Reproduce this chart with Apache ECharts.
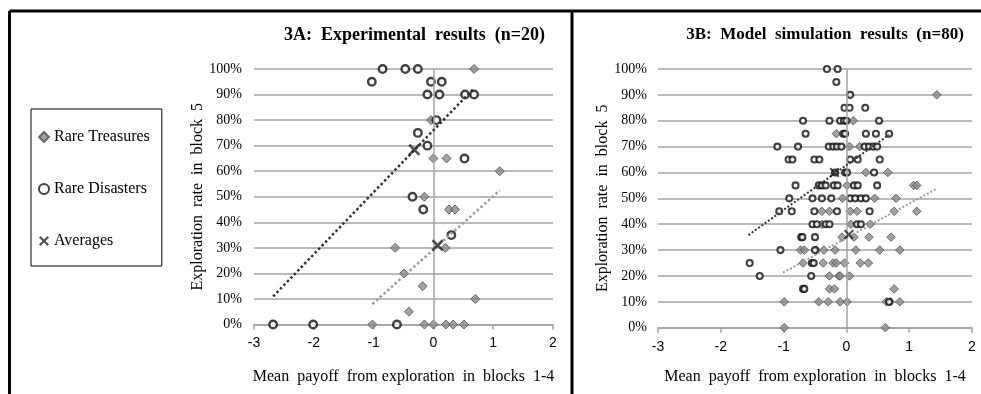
<!DOCTYPE html>
<html><head><meta charset="utf-8">
<script src="https://cdn.jsdelivr.net/npm/echarts/dist/echarts.min.js"></script>
<style>html,body{margin:0;padding:0;background:#fff}#c{width:981px;height:394px}</style>
</head><body><div id="c"></div>
<script>
// ---- data (x = mean payoff, y = exploration rate %) ----
const treasuresA = [[0.68,100],[-0.04,80],[0.0,65],[0.22,65],[1.11,60],[-0.15,50],[0.26,45],[0.36,45],[-0.64,30],[0.2,30],[-0.49,20],[-0.18,15],[0.7,10],[-0.41,5],[-1.02,0],[-0.15,0],[0.0,0],[0.21,0],[0.33,0],[0.51,0]];
const disastersA = [[-0.85,100],[-0.47,100],[-0.26,100],[-1.03,95],[-0.04,95],[0.14,95],[-0.1,90],[0.1,90],[0.53,90],[0.68,90],[0.05,80],[-0.26,75],[-0.1,70],[0.52,65],[-0.35,50],[-0.17,45],[0.3,35],[-2.68,0],[-2.01,0],[-0.61,0]];
const averagesA = [[-0.32,68.4],[0.07,31]];
const trendDisastersA = [[-2.68,11],[0.68,92.5]];
const trendTreasuresA = [[-1.02,8],[1.11,52.5]];

const treasuresB = [[1.44,90],[0.11,80],[-0.16,75],[0.05,70],[0.21,70],[0.31,60],[0.66,60],[0.01,55],[1.07,55],[1.12,55],[-0.06,50],[0.45,50],[0.79,50],[-0.39,45],[-0.27,45],[0.06,45],[0.17,45],[0.76,45],[1.12,45],[-0.39,40],[0.07,40],[0.38,40],[-0.07,35],[0.12,35],[0.36,35],[0.71,35],[-0.73,30],[-0.67,30],[-0.48,30],[-0.36,30],[-0.18,30],[0.15,30],[0.53,30],[0.85,30],[-0.69,25],[-0.37,25],[-0.21,25],[-0.16,25],[-0.03,25],[0.22,25],[0.35,25],[-0.27,20],[-0.12,20],[-0.1,20],[0.05,20],[-0.27,15],[-0.19,15],[0.76,15],[-0.99,10],[-0.44,10],[-0.29,10],[-0.1,10],[0.01,10],[0.64,10],[0.7,10],[0.85,10],[-0.99,0],[0.62,0]];
const disastersB = [[-0.31,100],[-0.14,100],[-0.16,95],[0.06,90],[-0.03,85],[0.05,85],[0.3,85],[-0.69,80],[-0.27,80],[-0.1,80],[-0.04,80],[0.0,80],[0.52,80],[-0.65,75],[-0.05,75],[-0.02,75],[0.31,75],[0.47,75],[0.68,75],[-1.1,70],[-0.77,70],[-0.28,70],[-0.21,70],[-0.15,70],[-0.08,70],[0.29,70],[0.36,70],[0.43,70],[0.49,70],[-0.92,65],[-0.86,65],[-0.51,65],[-0.43,65],[0.06,65],[0.18,65],[0.53,65],[-0.18,60],[-0.02,60],[0.01,60],[0.44,60],[-0.81,55],[-0.44,55],[-0.39,55],[-0.33,55],[-0.2,55],[-0.14,55],[0.12,55],[0.18,55],[0.49,55],[-0.91,50],[-0.54,50],[-0.39,50],[-0.24,50],[0.06,50],[0.14,50],[0.23,50],[0.31,50],[-1.07,45],[-0.87,45],[-0.51,45],[-0.15,45],[0.37,45],[-0.54,40],[-0.47,40],[-0.33,40],[-0.27,40],[0.17,40],[0.23,40],[-0.72,35],[-0.7,35],[-0.5,35],[-1.05,30],[-0.5,30],[-1.54,25],[-0.55,25],[-0.52,25],[-1.38,20],[-0.56,20],[-0.69,15],[-0.67,15],[0.68,10]];
const averagesB = [[-0.19,60],[0.04,36]];
const trendDisastersB = [[-1.56,35.8],[0.68,74.6]];
const trendTreasuresB = [[-1.01,21.3],[1.42,53.5]];

const titles = ['3A:  Experimental  results  (n=20)', '3B:  Model  simulation  results  (n=80)'];
const xName = 'Mean  payoff  from exploration  in  blocks  1-4';
const yName = 'Exploration  rate  in  block  5';
const legendNames = ['Rare Treasures', 'Rare Disasters', 'Averages'];

// ---- styling ----
const SERIF = '"Liberation Serif", "DejaVu Serif", serif';
const SANS = '"Liberation Sans", Arial, sans-serif';
const GRID_C = '#a3a3a3';
const XPATH = 'path://M0,1.5L1.5,0L5,3.5L8.5,0L10,1.5L6.5,5L10,8.5L8.5,10L5,6.5L1.5,10L0,8.5L3.5,5Z';

function axesFor(i, gap) {
  const x = {
    type: 'value', gridIndex: i, min: -3, max: 2, interval: 1,
    axisLine: { show: true, onZero: false, lineStyle: { color: GRID_C, width: 1.5 } },
    axisTick: { show: true, length: 5, lineStyle: { color: GRID_C, width: 1.5 } },
    axisLabel: { color: '#000', fontFamily: SANS, fontSize: 14, margin: 12 },
    splitLine: { show: false },
    name: xName, nameLocation: 'middle', nameGap: gap.x,
    nameTextStyle: { color: '#000', fontFamily: SERIF, fontSize: 16 }
  };
  const y = {
    type: 'value', gridIndex: i, min: 0, max: 100, interval: 10,
    axisLine: { show: false }, axisTick: { show: false },
    axisLabel: { color: '#000', fontFamily: SERIF, fontSize: 14, margin: gap.lm, formatter: '{value}%' },
    splitLine: { show: true, lineStyle: { color: GRID_C, width: 1.5 } },
    name: yName, nameLocation: 'middle', nameRotate: 90, nameGap: gap.y,
    nameTextStyle: { color: '#000', fontFamily: SERIF, fontSize: 16 }
  };
  return { x, y };
}
const aA = axesFor(0, { x: 44, y: 45, lm: 12 });
const aB = axesFor(1, { x: 41, y: 42, lm: 11 });

function seriesFor(i, tre, dis, avg, tDis, tTre, sc) {
  return [
    { name: 'Rare Treasures', type: 'scatter', xAxisIndex: i, yAxisIndex: i, data: tre,
      symbol: 'diamond', symbolSize: sc.d, z: 3,
      itemStyle: { color: '#8a8a8a', borderColor: '#505050', borderWidth: 1 },
      markLine: { silent: true, symbol: 'none', label: { show: false }, animation: false,
        lineStyle: { color: GRID_C, type: 'solid', width: 1.5 }, data: [{ xAxis: 0 }] } },
    { name: 'Rare Disasters', type: 'scatter', xAxisIndex: i, yAxisIndex: i, data: dis,
      symbol: 'circle', symbolSize: sc.c, z: 4,
      itemStyle: { color: '#fff', borderColor: '#111', borderWidth: sc.cb } },
    { name: 'trend disasters', type: 'line', xAxisIndex: i, yAxisIndex: i, data: tDis,
      symbol: 'none', z: 5, lineStyle: { type: 'dotted', width: sc.lw, color: '#333' } },
    { name: 'trend treasures', type: 'line', xAxisIndex: i, yAxisIndex: i, data: tTre,
      symbol: 'none', z: 5, lineStyle: { type: 'dotted', width: sc.lw, color: '#9a9a9a' } },
    { name: 'Averages', type: 'scatter', xAxisIndex: i, yAxisIndex: i, data: avg,
      symbol: XPATH, symbolSize: sc.x, z: 6,
      itemStyle: { color: '#222' } }
  ];
}

const chart = echarts.init(document.getElementById('c'), null, { renderer: 'canvas' });
chart.setOption({
  animation: false,
  backgroundColor: '#fff',
  grid: [
    { left: 254, top: 69, width: 299, height: 255.5 },
    { left: 658, top: 69, width: 314, height: 258.7 }
  ],
  xAxis: [aA.x, aB.x],
  yAxis: [aA.y, aB.y],
  legend: {
    data: legendNames, orient: 'vertical', left: 31, top: 109,
    itemWidth: 10, itemHeight: 10, itemGap: 36, padding: [20, 12, 17, 7],
    borderColor: '#000', borderWidth: 1, selectedMode: false,
    textStyle: { color: '#000', fontFamily: SERIF, fontSize: 16 }
  },
  series: [].concat(
    seriesFor(0, treasuresA, disastersA, averagesA, trendDisastersA, trendTreasuresA, { d: 9, c: 7.5, cb: 2.4, lw: 2.5, x: 12 }),
    seriesFor(1, treasuresB, disastersB, averagesB, trendDisastersB, trendTreasuresB, { d: 8.5, c: 6, cb: 2.1, lw: 2, x: 10 })
  ),
  graphic: [
    { type: 'line', shape: { x1: 9.5, y1: 11, x2: 981, y2: 11 }, style: { stroke: '#000', lineWidth: 3 }, z: 10 },
    { type: 'line', shape: { x1: 9.5, y1: 11, x2: 9.5, y2: 394 }, style: { stroke: '#000', lineWidth: 3 }, z: 10 },
    { type: 'line', shape: { x1: 572, y1: 11, x2: 572, y2: 394 }, style: { stroke: '#000', lineWidth: 3 }, z: 10 },
    { type: 'text', style: { text: titles[0], x: 414.5, y: 35, align: 'center', verticalAlign: 'middle',
        font: 'bold 18px "Liberation Serif", serif', fill: '#000' }, z: 10 },
    { type: 'text', style: { text: titles[1], x: 825, y: 34.5, align: 'center', verticalAlign: 'middle',
        font: 'bold 17px "Liberation Serif", serif', fill: '#000' }, z: 10 }
  ]
});
</script></body></html>
